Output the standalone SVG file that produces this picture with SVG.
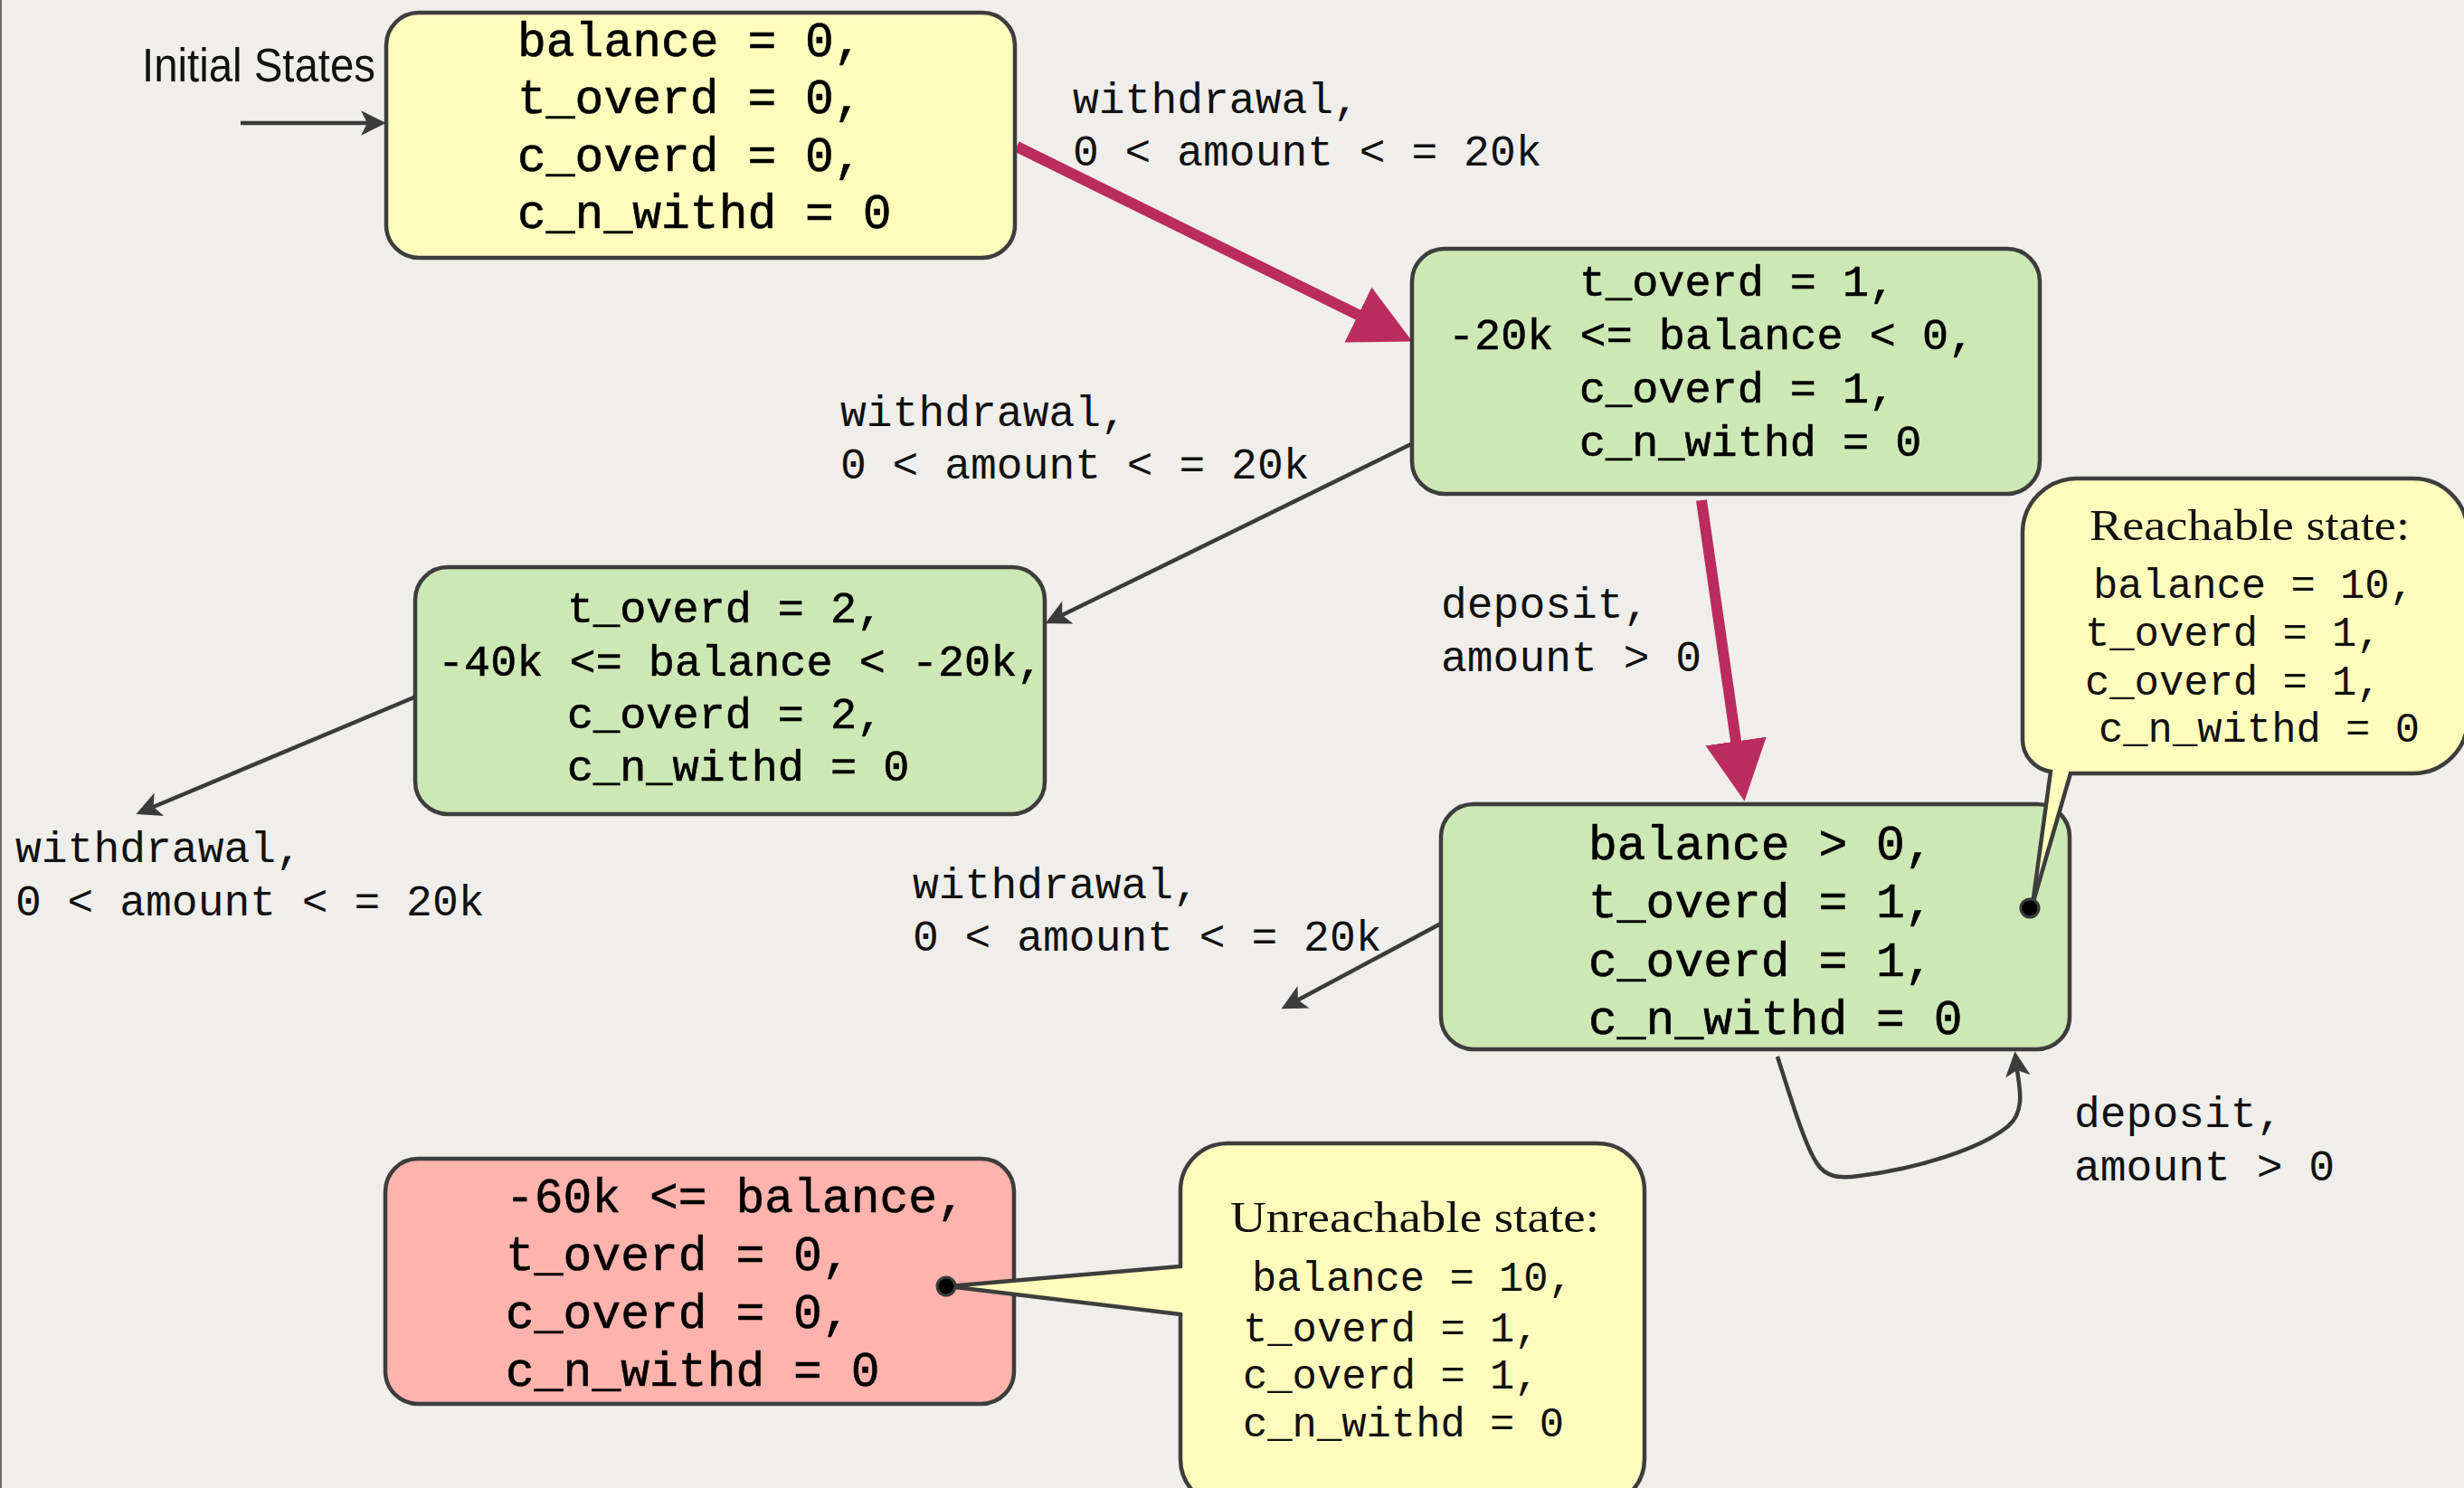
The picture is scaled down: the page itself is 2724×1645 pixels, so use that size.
<svg xmlns="http://www.w3.org/2000/svg" width="2724" height="1645" viewBox="0 0 2724 1645">
  <style>
    .node { stroke: #3d3d3d; stroke-width: 4.5; }
    .yellow { fill: #fffcbc; }
    .green { fill: #cde8b5; }
    .red { fill: #ffb3ad; }
    .state { font-family: "Liberation Mono", "Courier New", monospace; fill: #000; stroke: #000; stroke-width: 0.6; }
    .s53 { font-size: 53px; }
    .s48 { font-size: 48.5px; }
    .label { font-family: "Liberation Mono", "Courier New", monospace; font-size: 48px; fill: #111; }
    .note { font-family: "Liberation Mono", "Courier New", monospace; font-size: 45.5px; fill: #111; }
    .title { font-family: "Liberation Serif", "Times New Roman", serif; fill: #111; }
    .thin { fill: none; stroke: #3b3b3b; stroke-width: 4.5; }
    .thick { fill: none; stroke: #bb2c5e; stroke-width: 12; }
    .dot { fill: #000; stroke: #3b3b3b; stroke-width: 3; }
  </style>
  <defs>
    <marker id="head" markerUnits="userSpaceOnUse" markerWidth="30" markerHeight="30" viewBox="0 -13 26 26" refX="6" refY="0" orient="auto">
      <path d="M0,-12 L24,0 L0,12 L6,0 Z" fill="#3b3b3b"/>
    </marker>
    <marker id="bighead" markerUnits="userSpaceOnUse" markerWidth="70" markerHeight="70" viewBox="0 -33 66 66" refX="2" refY="0" orient="auto">
      <path d="M0,-32 L63,0 L0,32 Z" fill="#bb2c5e"/>
    </marker>
  </defs>

  <!-- backdrop -->
  <rect x="0" y="0" width="2724" height="1645" fill="#efeeeb"/>
  <rect x="0" y="0" width="2" height="1645" fill="#6b6b6b"/>

  <!-- transitions -->
  <g id="connectors">
    <line class="thin" x1="266" y1="136" x2="406" y2="136" marker-end="url(#head)"/>
    <line class="thick" x1="1124" y1="162" x2="1503.3" y2="349" marker-end="url(#bighead)"/>
    <line class="thick" x1="1881" y1="553" x2="1919.4" y2="821.6" marker-end="url(#bighead)"/>
    <line class="thin" x1="1560" y1="491" x2="1174.2" y2="680.1" marker-end="url(#head)"/>
    <line class="thin" x1="460" y1="770" x2="169.6" y2="892" marker-end="url(#head)"/>
    <line class="thin" x1="1593" y1="1021" x2="1434.9" y2="1105.5" marker-end="url(#head)"/>
    <path class="thin" d="M1965,1168 C1980,1215 1995,1265 2008,1285 C2018,1302 2035,1303 2055,1300 C2120,1292 2190,1270 2220,1245 C2240,1228 2232,1200 2230,1183" marker-end="url(#head)"/>
  </g>

  <!-- transition labels -->
  <g id="labels">
    <text class="label" x="1186" y="125">withdrawal,</text>
    <text class="label" x="1186" y="183">0 &lt; amount &lt; = 20k</text>
    <text class="label" x="929" y="471">withdrawal,</text>
    <text class="label" x="929" y="529">0 &lt; amount &lt; = 20k</text>
    <text class="label" x="17" y="953">withdrawal,</text>
    <text class="label" x="17" y="1012">0 &lt; amount &lt; = 20k</text>
    <text class="label" x="1593" y="683">deposit,</text>
    <text class="label" x="1593" y="742">amount &gt; 0</text>
    <text class="label" x="1009" y="993">withdrawal,</text>
    <text class="label" x="1009" y="1051">0 &lt; amount &lt; = 20k</text>
    <text class="label" x="2293" y="1246">deposit,</text>
    <text class="label" x="2293" y="1305">amount &gt; 0</text>
    <text x="157" y="90" font-family="Liberation Sans, Arial, sans-serif" font-size="51" fill="#111" textLength="258" lengthAdjust="spacingAndGlyphs">Initial States</text>
  </g>

  <g id="initial">
    <rect class="node yellow" x="427" y="14" width="695" height="271" rx="36"/>
    <text class="state s53" x="572" y="62">balance = 0,</text>
    <text class="state s53" x="572" y="125">t_overd = 0,</text>
    <text class="state s53" x="572" y="189">c_overd = 0,</text>
    <text class="state s53" x="572" y="252">c_n_withd = 0</text>
  </g>

  <g id="overdraft1">
    <rect class="node green" x="1561" y="275" width="694" height="271" rx="36"/>
    <text class="state s48" x="1746" y="327">t_overd = 1,</text>
    <text class="state s48" x="1601" y="386">-20k &lt;= balance &lt; 0,</text>
    <text class="state s48" x="1746" y="445">c_overd = 1,</text>
    <text class="state s48" x="1746" y="504">c_n_withd = 0</text>
  </g>

  <g id="overdraft2">
    <rect class="node green" x="459" y="627" width="696" height="273" rx="36"/>
    <text class="state s48" x="627" y="688">t_overd = 2,</text>
    <text class="state s48" x="484" y="747">-40k &lt;= balance &lt; -20k,</text>
    <text class="state s48" x="627" y="805">c_overd = 2,</text>
    <text class="state s48" x="627" y="863">c_n_withd = 0</text>
  </g>

  <g id="positive">
    <rect class="node green" x="1593" y="889" width="695" height="271" rx="36"/>
    <text class="state s53" x="1756" y="950">balance &gt; 0,</text>
    <text class="state s53" x="1756" y="1014">t_overd = 1,</text>
    <text class="state s53" x="1756" y="1079">c_overd = 1,</text>
    <text class="state s53" x="1756" y="1143">c_n_withd = 0</text>
  </g>

  <g id="unreachable">
    <rect class="node red" x="426" y="1281" width="695" height="271" rx="36"/>
    <text class="state s53" x="559" y="1340">-60k &lt;= balance,</text>
    <text class="state s53" x="559" y="1404">t_overd = 0,</text>
    <text class="state s53" x="559" y="1468">c_overd = 0,</text>
    <text class="state s53" x="559" y="1532">c_n_withd = 0</text>
  </g>

  <g id="reachable-note">
    <path class="node yellow" d="M2296,529 H2668 A60,60 0 0 1 2728,589 V795 A60,60 0 0 1 2668,855 H2289 L2247,1000 L2267,853 A36,36 0 0 1 2236,817 V589 A60,60 0 0 1 2296,529 Z"/>
    <circle class="dot" cx="2244" cy="1004" r="10"/>
    <text class="title" x="2310" y="597" font-size="48" textLength="354" lengthAdjust="spacingAndGlyphs">Reachable state:</text>
    <text class="note" x="2314" y="661">balance = 10,</text>
    <text class="note" x="2305" y="714">t_overd = 1,</text>
    <text class="note" x="2305" y="768">c_overd = 1,</text>
    <text class="note" x="2320" y="820">c_n_withd = 0</text>
  </g>

  <g id="unreachable-note">
    <path class="node yellow" d="M1357,1264 H1766 A52,52 0 0 1 1818,1316 V1613 A52,52 0 0 1 1766,1665 H1357 A52,52 0 0 1 1305,1613 V1453 L1048,1422 L1305,1400 V1316 A52,52 0 0 1 1357,1264 Z"/>
    <circle class="dot" cx="1046" cy="1422" r="10"/>
    <text class="title" x="1360" y="1362" font-size="49" textLength="408" lengthAdjust="spacingAndGlyphs">Unreachable state:</text>
    <text class="note" x="1384" y="1427">balance = 10,</text>
    <text class="note" x="1374" y="1483">t_overd = 1,</text>
    <text class="note" x="1374" y="1535">c_overd = 1,</text>
    <text class="note" x="1374" y="1588">c_n_withd = 0</text>
  </g>
</svg>
